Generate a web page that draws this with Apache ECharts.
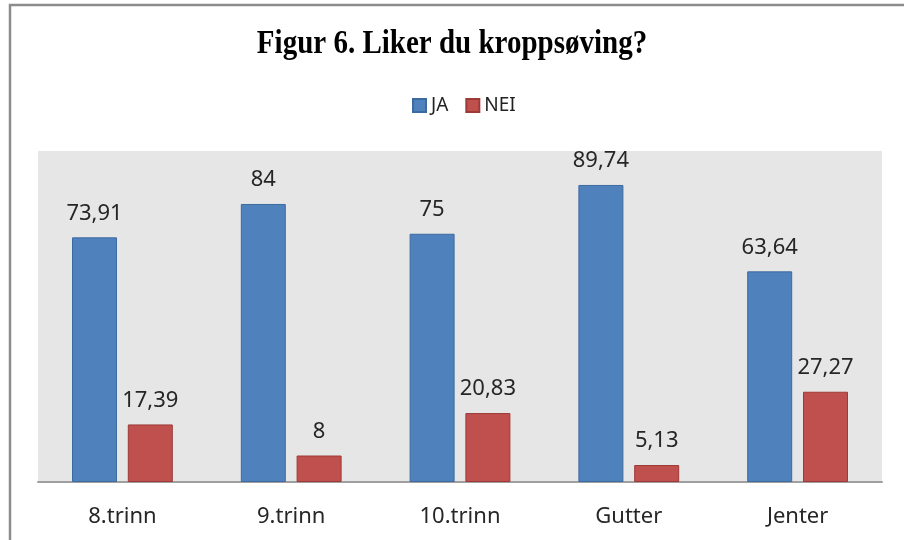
<!DOCTYPE html>
<html>
<head>
<meta charset="utf-8">
<script src="https://cdn.jsdelivr.net/npm/echarts@6/dist/echarts.min.js"></script>
<style>
html,body{margin:0;padding:0;background:#fff;}
#chart{width:904px;height:540px;}
</style>
</head>
<body>
<div id="chart"></div>
<script>
const titleText = 'Figur 6. Liker du kroppsøving?';
const categories = ['8.trinn', '9.trinn', '10.trinn', 'Gutter', 'Jenter'];
const seriesNames = ['JA', 'NEI'];
const jaValues = [73.91, 84, 75, 89.74, 63.64];
const neiValues = [17.39, 8, 20.83, 5.13, 27.27];

const chart = echarts.init(document.getElementById('chart'), null, {renderer: 'canvas'});
const labelFmt = p => String(p.value).replace('.', ',');
const font = '"Noto Sans", sans-serif';

chart.setOption({
  animation: false,
  backgroundColor: '#ffffff',
  graphic: [
    {
      type: 'rect',
      shape: {x: 10, y: 5, width: 1000, height: 1000},
      style: {fill: 'none', stroke: '#8c8c8c', lineWidth: 2.5},
      silent: true
    },
    {
      type: 'text',
      x: 452, y: 44,
      scaleY: 1.15,
      style: {
        text: titleText,
        x: 0, y: 0,
        textAlign: 'center',
        textVerticalAlign: 'middle',
        font: 'bold 29px "Liberation Serif", "Times New Roman", serif',
        fill: '#000000'
      }
    }
  ],
  legend: {
    data: seriesNames,
    left: 407,
    top: 91,
    itemWidth: 13,
    itemHeight: 13,
    itemGap: 17,
    icon: 'rect',
    textStyle: {fontFamily: font, fontSize: 19, color: '#222'}
  },
  grid: {left: 38, right: 22, top: 151, bottom: 58, backgroundColor: '#e6e6e6', show: true, borderWidth: 0},
  xAxis: {
    type: 'category',
    data: categories,
    axisLine: {show: true, lineStyle: {color: '#a0a0a0', width: 2}},
    axisTick: {show: false},
    axisLabel: {fontFamily: font, fontSize: 22, color: '#262626', margin: 24}
  },
  yAxis: {
    type: 'value',
    min: 0, max: 100, interval: 20,
    show: false,
    splitLine: {show: false}
  },
  series: [
    {
      name: 'JA', type: 'bar', data: jaValues,
      barWidth: 45, barGap: '24%',
      itemStyle: {color: '#4f81bd', borderColor: '#3d6a9f', borderWidth: 1},
      label: {show: true, position: 'top', distance: 13, formatter: labelFmt,
              fontFamily: font, fontSize: 22, color: '#262626'}
    },
    {
      name: 'NEI', type: 'bar', data: neiValues,
      barWidth: 45, barGap: '24%',
      itemStyle: {color: '#c0504d', borderColor: '#9c3a37', borderWidth: 1},
      label: {show: true, position: 'top', distance: 13, formatter: labelFmt,
              fontFamily: font, fontSize: 22, color: '#262626'}
    }
  ]
});
</script>
</body>
</html>
